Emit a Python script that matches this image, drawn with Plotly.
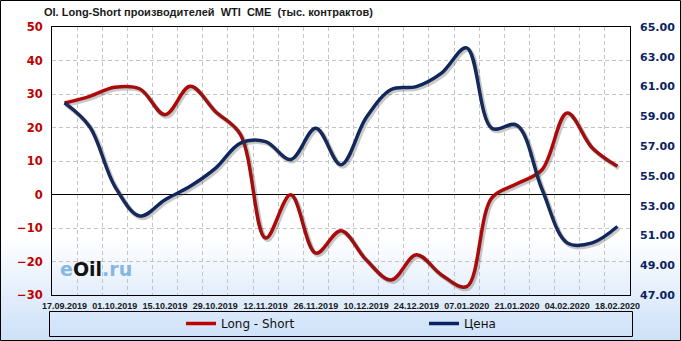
import plotly.graph_objects as go

dates = ["17.09.2019", "24.09.2019", "01.10.2019", "08.10.2019", "15.10.2019", "22.10.2019",
         "29.10.2019", "05.11.2019", "12.11.2019", "19.11.2019", "26.11.2019", "03.12.2019",
         "10.12.2019", "17.12.2019", "24.12.2019", "31.12.2019", "07.01.2020", "14.01.2020",
         "21.01.2020", "28.01.2020", "04.02.2020", "11.02.2020", "18.02.2020"]
long_short = [27.3, 29.3, 32.0, 31.5, 23.8, 32.3, 24.8, 17.9, -13.0, -0.1, -17.5, -10.8,
              -19.5, -25.5, -18.0, -24.0, -27.5, -1.0, 3.2, 7.4, 24.3, 13.9, 8.4]
price = [59.9, 58.3, 54.3, 52.3, 53.4, 54.3, 55.5, 57.2, 57.3, 56.1, 58.2, 55.75,
         58.9, 60.8, 61.0, 61.9, 63.6, 58.2, 58.4, 54.1, 50.5, 50.5, 51.6]
left_ticks = [50, 40, 30, 20, 10, 0, -10, -20, -30]
right_ticks = [65, 63, 61, 59, 57, 55, 53, 51, 49, 47]

W, H = 681, 341
L, R, T, B = 52, 51, 27, 46
PW, PH = W - L - R, H - T - B

def px(x):
    return (x - L) / PW

def py(y):
    return (H - B - y) / PH

xi = list(range(len(dates)))
label_idx = xi[::2]

RED = "#c00000"
NAVY = "#0a2463"
FONT = "DejaVu Sans"

fig = go.Figure()

fig.add_trace(go.Scatter(x=xi, y=long_short, xaxis="x2", yaxis="y3", mode="lines",
                         line=dict(color="rgba(60,60,60,0.28)", width=4.5, shape="spline", smoothing=1),
                         showlegend=False, hoverinfo="skip"))
fig.add_trace(go.Scatter(x=xi, y=price, xaxis="x2", yaxis="y4", mode="lines",
                         line=dict(color="rgba(60,60,60,0.28)", width=4.5, shape="spline", smoothing=1),
                         showlegend=False, hoverinfo="skip"))

fig.add_trace(go.Scatter(x=xi, y=long_short, name="Long - Short", mode="lines", legend="legend",
                         line=dict(color=RED, width=3.5, shape="spline", smoothing=1)))
fig.add_trace(go.Scatter(x=xi, y=price, name="Цена", mode="lines", yaxis="y2", legend="legend2",
                         line=dict(color=NAVY, width=3.5, shape="spline", smoothing=1)))

dx = 1.6 / (PW / 23)
dyl = 1.8 / (PH / 80)
dyr = 1.8 / (PH / 18)

grid = dict(gridcolor="#c4c4c4", griddash="4px,3px", gridwidth=1)
legfont = dict(family=FONT, size=12, color="#111")

fig.update_layout(
    width=W, height=H,
    margin=dict(l=L, r=R, t=T, b=B, autoexpand=False),
    paper_bgcolor="white",
    plot_bgcolor="rgba(0,0,0,0)",
    showlegend=True,
    xaxis=dict(range=[-0.5, 22.5], tickmode="array", tickvals=label_idx,
               ticktext=[dates[i] for i in label_idx], showgrid=False,
               tickfont=dict(family="Liberation Sans", size=9, color="#1a1a1a", weight="bold"),
               tickangle=0, showline=True, linecolor="black", linewidth=1, mirror=True,
               zeroline=False, ticks="", ticklabelstandoff=2,
               minor=dict(tickmode="linear", tick0=0.5, dtick=1, showgrid=True, **grid)),
    xaxis2=dict(range=[-0.5 - dx, 22.5 - dx], overlaying="x", visible=False),
    yaxis=dict(range=[-30, 50], tickmode="array", tickvals=left_ticks,
               tickfont=dict(family=FONT, size=11.5, color=RED, weight="bold"),
               showgrid=True, **grid, zeroline=True, zerolinecolor="black", zerolinewidth=1,
               showline=True, linecolor="black", linewidth=1, mirror=True, ticks="",
               ticklabelstandoff=6),
    yaxis2=dict(range=[47, 65], tickmode="array", tickvals=right_ticks,
                ticktext=[f"{v:.2f}" for v in right_ticks],
                tickfont=dict(family=FONT, size=11, color=NAVY, weight="bold"),
                overlaying="y", side="right", showgrid=False, zeroline=False,
                showline=False, ticks="", ticklabelstandoff=9),
    yaxis3=dict(range=[-30 + dyl, 50 + dyl], overlaying="y", visible=False),
    yaxis4=dict(range=[47 + dyr, 65 + dyr], overlaying="y", visible=False),
    legend=dict(orientation="h", x=px(181), y=py(323.5), xanchor="left", yanchor="middle",
                xref="paper", yref="paper", bgcolor="rgba(0,0,0,0)", font=legfont,
                itemwidth=30),
    legend2=dict(orientation="h", x=px(424), y=py(323.5), xanchor="left", yanchor="middle",
                 xref="paper", yref="paper", bgcolor="rgba(0,0,0,0)", font=legfont,
                 itemwidth=30),
)

shapes = []
y_start, y_end, n = 238, 341, 30
c0, c1 = (255, 255, 255), (204, 224, 248)
for k in range(n):
    t = (k + 0.5) / n
    col = tuple(round(c0[j] + (c1[j] - c0[j]) * t) for j in range(3))
    ya = y_start + (y_end - y_start) * k / n
    yb = y_start + (y_end - y_start) * (k + 1) / n + 0.6
    shapes.append(dict(type="rect", xref="paper", yref="paper", x0=px(0), x1=px(W),
                       y0=py(yb), y1=py(ya), fillcolor=f"rgb{col}", line=dict(width=0),
                       layer="below"))
shapes.append(dict(type="rect", xref="paper", yref="paper", x0=px(49.5), x1=px(632.5),
                   y0=py(336.5), y1=py(311.5), line=dict(color="black", width=1),
                   fillcolor="rgba(0,0,0,0)", layer="above"))
shapes.append(dict(type="rect", xref="paper", yref="paper", x0=px(0.5), x1=px(680.5),
                   y0=py(340.5), y1=py(0.5), line=dict(color="black", width=1),
                   fillcolor="rgba(0,0,0,0)", layer="above"))
fig.update_layout(shapes=shapes)

fig.add_annotation(text="OI. Long-Short производителей  WTI  CME  (тыс. контрактов)",
                   xref="paper", yref="paper", x=px(42), y=py(12.5), xanchor="left",
                   yanchor="middle", showarrow=False,
                   font=dict(family="Liberation Sans", size=11, color="#1a1a1a", weight="bold"))
fig.add_annotation(text="<span style='color:#86b6e2'>e</span><span style='color:#111'>Oil</span>"
                        "<span style='color:#86b6e2'>.ru</span>",
                   xref="paper", yref="paper", x=px(58), y=py(269), xanchor="left",
                   yanchor="middle", showarrow=False,
                   font=dict(family=FONT, size=19, weight="bold"))

fig.write_html("out.html")
